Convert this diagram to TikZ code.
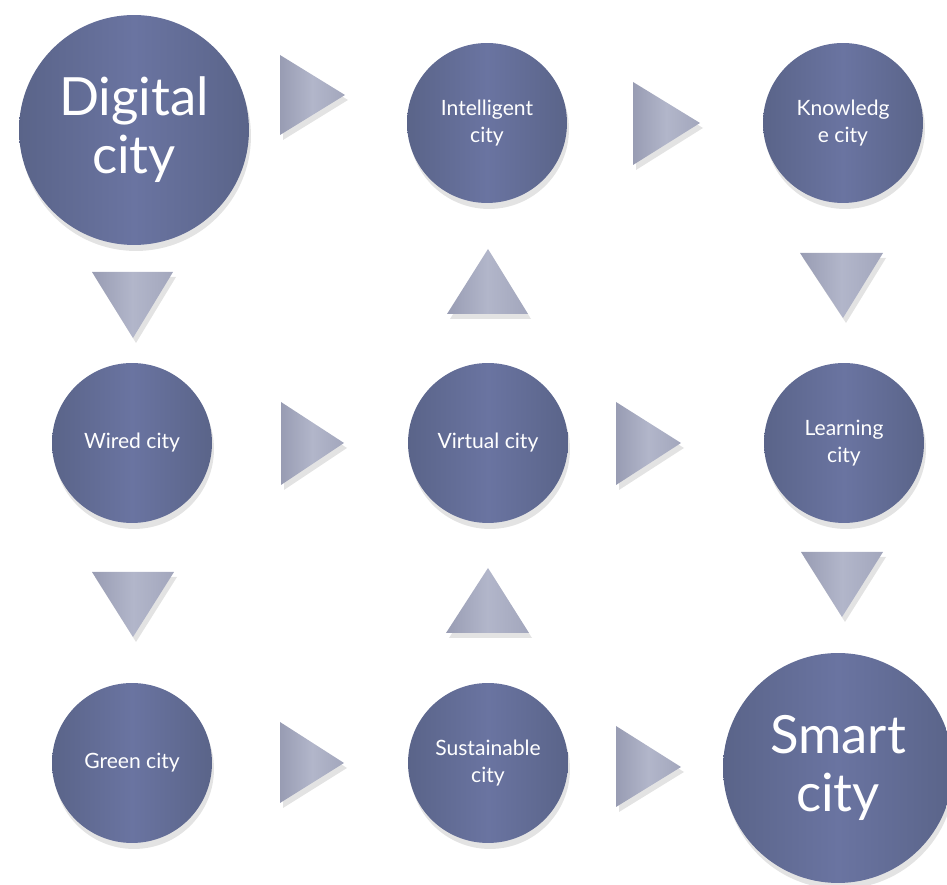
\documentclass[tikz,border=0pt]{standalone}
\usepackage{fontspec}
\setmainfont{Lato}
\usetikzlibrary{shadows}
\definecolor{balldark}{HTML}{5A6489}
\definecolor{balllight}{HTML}{6A74A1}
\definecolor{tridark}{HTML}{989CB3}
\definecolor{trilight}{HTML}{B2B6CA}
\begin{document}
\begin{tikzpicture}[line join=round,x=0.02cm,y=0.02cm,
  ball/.style={circle,minimum size=3.2cm,inner sep=0pt,text=white,align=center,
    left color=balldark,right color=balldark,middle color=balllight,
    font=\fontsize{12}{15}\selectfont,
    drop shadow={opacity=0.22,shadow xshift=0.04cm,shadow yshift=-0.12cm}},
  bigball/.style={ball,minimum size=4.6cm,font=\fontsize{30}{33}\selectfont},
  tri/.style={left color=tridark,right color=tridark!60!trilight,middle color=trilight,
    drop shadow={opacity=0.22,shadow xshift=0.06cm,shadow yshift=-0.1cm}}]
\useasboundingbox (0,0) rectangle (947,885);
% cities
\node[bigball] (dig) at (134,755) {Digital\\city};
\node[ball] (intel) at (487,762) {Intelligent\\city};
\node[ball] (know) at (843,762) {Knowledg\\e city};
\node[ball] (wired) at (132,442) {Wired city};
\node[ball] (virt) at (488,442) {Virtual city};
\node[ball] (learn) at (844,442) {Learning\\city};
\node[ball] (green) at (132,122) {Green city};
\node[ball] (sust) at (488,122) {Sustainable\\city};
\node[bigball] (smart) at (838,117) {Smart\\city};
% arrow heads
\path[tri] (280,830) -- (345,790) -- (280,750) -- cycle;
\path[tri] (633,803) -- (700,762) -- (633,720) -- cycle;
\path[tri] (92,613) -- (173,613) -- (133,547) -- cycle;
\path[tri] (447,571) -- (528,571) -- (488,636) -- cycle;
\path[tri] (800,632) -- (883,632) -- (843,567) -- cycle;
\path[tri] (281,483) -- (344,442) -- (281,400) -- cycle;
\path[tri] (616,483) -- (681,442) -- (616,400) -- cycle;
\path[tri] (92,313) -- (174,313) -- (133,248) -- cycle;
\path[tri] (446,252) -- (529,252) -- (488,317) -- cycle;
\path[tri] (801,333) -- (883,333) -- (842,268) -- cycle;
\path[tri] (280,163) -- (344,122) -- (280,82) -- cycle;
\path[tri] (616,159) -- (681,118) -- (616,78) -- cycle;
\end{tikzpicture}
\end{document}
